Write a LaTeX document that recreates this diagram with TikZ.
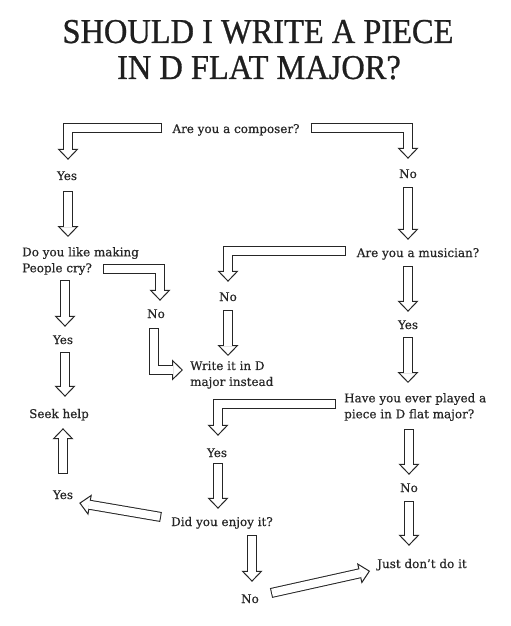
\documentclass[tikz,border=0pt]{standalone}
\usepackage{fontspec}
\setmainfont{DejaVu Serif}[FakeBold=0.5]
\newfontfamily\titlefont[FakeStretch=0.93, FakeBold=0.8]{Liberation Serif}
\usetikzlibrary{arrows.meta, calc}

\begin{document}
\begin{tikzpicture}[
  x=1bp, y=-1bp,
  title/.style={font=\titlefont\fontsize{35}{36}\selectfont, text=black!88, inner sep=0pt, anchor=base},
  txt/.style={font=\fontsize{12}{16}\selectfont, text=black!85, inner sep=0pt, text height=9bp, text depth=3bp, anchor=base},
  txtl/.style={font=\fontsize{12}{16}\selectfont, text=black!85, inner sep=0pt, align=left, anchor=north west},
  blk/.style={draw=black!85, line width=10bp, line join=miter, line cap=butt,
    -{Triangle[length=11bp, width=21bp, line width'=1bp, fill=white]},
    postaction={draw=white, line width=8bp, -, shorten <=1bp, shorten >=9.6bp}}
]
\fill[white] (0,0) rectangle (511,626);
\useasboundingbox (0,0) rectangle (511,626);

% Title
\node[title] (t1) at (258,43) {SHOULD I WRITE A PIECE};
\node[title] (t2) at (259,79) {IN D FLAT MAJOR?};

% Questions and answers
\node[txt] (q1) at (236,133) {Are you a composer?};
\node[txt] (yes1) at (67,180) {Yes};
\node[txt] (no1) at (408,178) {No};
\node[txt] (q2) at (418,257) {Are you a musician?};
\node[txtl] (q3) at (22,247) {Do you like making\\People cry?};
\node[txt] (no2) at (228,301) {No};
\node[txt] (no3) at (156,318) {No};
\node[txt] (yes2) at (63,344) {Yes};
\node[txt] (yes3) at (408,329) {Yes};
\node[txtl] (w) at (190,361) {Write it in D\\major instead};
\node[txtl] (q4) at (344,393) {Have you ever played a\\piece in D flat major?};
\node[txt] (help) at (59,418) {Seek help};
\node[txt] (yes4) at (217,457) {Yes};
\node[txt] (no4) at (409,492) {No};
\node[txt] (q5) at (222,526) {Did you enjoy it?};
\node[txt] (yes5) at (63,499) {Yes};
\node[txt] (just) at (422,568) {Just don't do it};
\node[txt] (no5) at (250,603) {No};

% Composer?
\draw[blk] ($(q1.west)+(-10,-2)$) -| ($(yes1.north)+(1,-11)$);
\draw[blk] ($(q1.east)+(11,-2)$) -| ($(no1.north)+(0,-10)$);
\draw[blk] ($(yes1.south)+(1,8)$) -- ($(yes1.south |- q3.north)+(1,-10)$);
\draw[blk] ($(no1.south)+(0,6)$) -- ($(no1.south |- q2.north)+(0,-8)$);

% Musician?
\draw[blk] ($(q2.west)+(-11,-3)$) -| ($(no2.north)+(0,-10)$);
\draw[blk] ($(q2.south -| yes3)+(0,6)$) -- ($(yes3.north)+(0,-8)$);
\draw[blk] ($(no2.south)+(0,6)$) -- ($(no2.south |- w.north)+(0,-5)$);

% People cry?
\draw[blk] ($(q3.north west)+(81,22)$) -| ($(no3.north)+(4,-8)$);
\draw[blk] ($(q3.north west)+(43,33)$) -- ($(yes2.north)+(2,-8)$);
\draw[blk] ($(no3.south)+(-2,7)$) |- ($(w.north west)+(-7,9)$);
\draw[blk] ($(yes2.south)+(2,5)$) -- ($(yes2.south |- help.north)+(2,-12)$);

% Played it?
\draw[blk] ($(yes3.south)+(0,5)$) -- ($(yes3.south |- q4.north)+(0,-10)$);
\draw[blk] ($(q4.north west)+(-8,11)$) -| ($(yes4.north)+(1,-12)$);
\draw[blk] ($(q4.north west -| no4)+(0,36)$) -- ($(no4.north)+(0,-8)$);

% Enjoy it?
\draw[blk] ($(yes4.south)+(1,3)$) -- ($(yes4.south |- q5.north)+(1,-8)$);
\draw[blk] ($(q5.west)+(-10,-6)$) -- ($(yes5.east)+(6,7)$);
\draw[blk] ($(yes5.north)+(0,-16)$) -- ($(help.south)+(4,7)$);
\draw[blk] ($(q5.south -| no5)+(2,6)$) -- ($(no5.north)+(2,-12)$);

% Don't
\draw[blk] ($(no4.south)+(0,6)$) -- ($(no4.south |- just.north)+(0,-13)$);
\draw[blk] ($(no5.east)+(12,-7)$) -- ($(just.west)+(-7,6)$);

\end{tikzpicture}
\end{document}
